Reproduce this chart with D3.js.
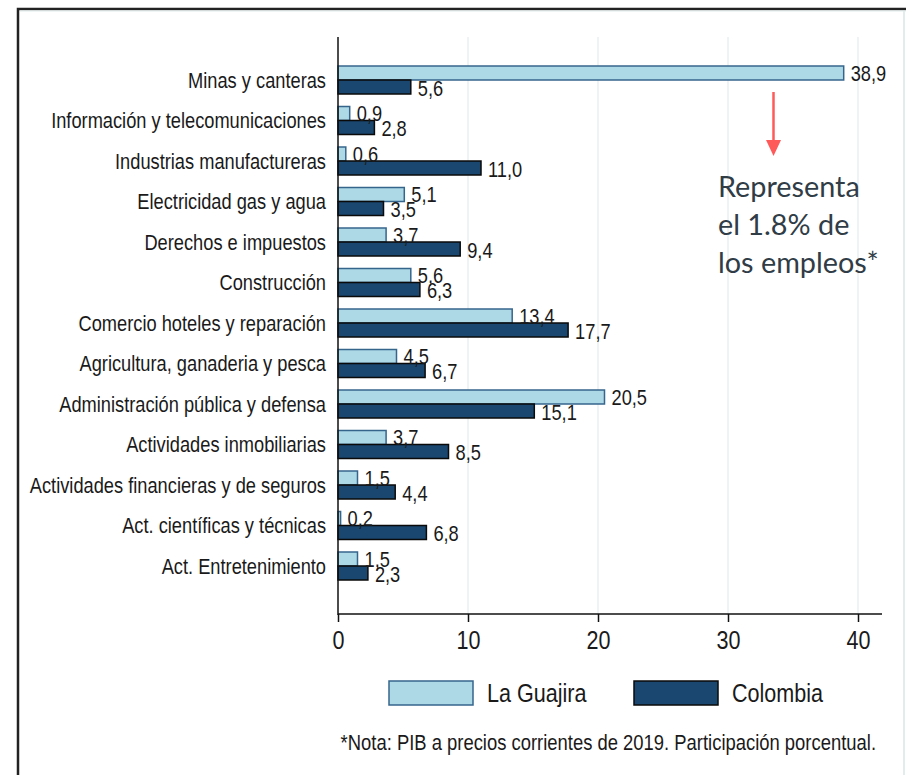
<!DOCTYPE html>
<html>
<head>
<meta charset="utf-8">
<script src="https://cdn.jsdelivr.net/npm/d3@7"></script>
<style>
  html, body { margin: 0; padding: 0; background: #fff; }
  svg { display: block; }
  .arialish { font-family: "Liberation Sans", Arial, sans-serif; }
</style>
</head>
<body>
<svg id="chart" width="906" height="775"></svg>
<script>
const categories = [
  "Minas y canteras",
  "Información y telecomunicaciones",
  "Industrias manufactureras",
  "Electricidad gas y agua",
  "Derechos e impuestos",
  "Construcción",
  "Comercio hoteles y reparación",
  "Agricultura, ganaderia y pesca",
  "Administración pública y defensa",
  "Actividades inmobiliarias",
  "Actividades financieras y de seguros",
  "Act. científicas y técnicas",
  "Act. Entretenimiento"
];
const guajira = [38.9, 0.9, 0.6, 5.1, 3.7, 5.6, 13.4, 4.5, 20.5, 3.7, 1.5, 0.2, 1.5];
const colombia = [5.6, 2.8, 11.0, 3.5, 9.4, 6.3, 17.7, 6.7, 15.1, 8.5, 4.4, 6.8, 2.3];
const xTicks = [0, 10, 20, 30, 40];
const seriesNames = ["La Guajira", "Colombia"];
const annotationLines = ["Representa", "el 1.8% de", "los empleos*"];
const note = "*Nota: PIB a precios corrientes de 2019. Participación porcentual.";

const SX = 0.83; // horizontal condensing to mimic a narrow sans
const svg = d3.select("#chart");
const colors = { light: "#add8e6", lightStroke: "#36658c", dark: "#1a476f", darkStroke: "#0a0a0a" };

// condensed text helper: positions text at (x,y) and squeezes horizontally
function narrow(sel, size) {
  sel.each(function () {
    const t = d3.select(this);
    const x = +t.attr("x") || 0, y = +t.attr("y") || 0;
    t.attr("x", 0).attr("y", 0)
      .attr("transform", `translate(${x},${y}) scale(${SX},1)`)
      .attr("class", "arialish").attr("font-size", size).attr("fill", "#1a1a1a");
  });
  return sel;
}

// frame
svg.append("rect").attr("x", 18).attr("y", 9).attr("width", 900).attr("height", 800)
  .attr("fill", "none").attr("stroke", "#222").attr("stroke-width", 2.5);
svg.append("line").attr("x1", 20).attr("x2", 906).attr("y1", 11).attr("y2", 11)
  .attr("stroke", "#dfe9ea").attr("stroke-width", 1);
svg.append("line").attr("x1", 904).attr("x2", 904).attr("y1", 11).attr("y2", 775)
  .attr("stroke", "#e3ecec").attr("stroke-width", 2);

const x = d3.scaleLinear().domain([0, 40]).range([338, 858]);
const y = d3.scaleBand().domain(categories).range([59.75, 586.25]);
const barH = 14;
const axisY = 614;
const fmt = v => d3.format(".1f")(v).replace(".", ",");

// gridlines
svg.append("g").selectAll("line").data(xTicks.filter(d => d > 0)).join("line")
  .attr("x1", d => x(d)).attr("x2", d => x(d)).attr("y1", 37).attr("y2", axisY)
  .attr("stroke", "#e3ecee").attr("stroke-width", 1.2);

// bars
const rows = categories.map((c, i) => ({ c, g: guajira[i], co: colombia[i] }));
const gRows = svg.append("g").selectAll("g").data(rows).join("g");
gRows.append("rect")
  .attr("x", x(0)).attr("y", d => y(d.c) + y.bandwidth() / 2 - barH)
  .attr("width", d => x(d.g) - x(0)).attr("height", barH)
  .attr("fill", colors.light).attr("stroke", colors.lightStroke).attr("stroke-width", 1.5);
gRows.append("rect")
  .attr("x", x(0)).attr("y", d => y(d.c) + y.bandwidth() / 2)
  .attr("width", d => x(d.co) - x(0)).attr("height", barH)
  .attr("fill", colors.dark).attr("stroke", colors.darkStroke).attr("stroke-width", 1.5);

narrow(gRows.append("text")
  .attr("x", d => x(d.g) + 7).attr("y", d => y(d.c) + y.bandwidth() / 2 - barH / 2)
  .attr("dy", "0.36em").text(d => fmt(d.g)), 22);
narrow(gRows.append("text")
  .attr("x", d => x(d.co) + 7).attr("y", d => y(d.c) + y.bandwidth() / 2 + barH / 2 + 1)
  .attr("dy", "0.36em").text(d => fmt(d.co)), 22);

// y axis (category labels)
const yAxis = svg.append("g").attr("transform", `translate(${x(0)},0)`)
  .call(d3.axisLeft(y).tickSize(0).tickPadding(12));
yAxis.select(".domain").remove();
yAxis.selectAll(".tick text").attr("dy", "0.36em");
narrow(yAxis.selectAll(".tick text"), 22);
svg.append("line").attr("x1", x(0)).attr("x2", x(0)).attr("y1", 37).attr("y2", axisY + 1)
  .attr("stroke", "#111").attr("stroke-width", 1.5);

// x axis
const xAxis = svg.append("g").attr("transform", `translate(0,${axisY})`)
  .call(d3.axisBottom(x).tickValues(xTicks).tickSize(8).tickPadding(0).tickSizeOuter(0));
xAxis.select(".domain").attr("d", `M${x(0)},0H882`).attr("stroke", "#111").attr("stroke-width", 1.5);
xAxis.selectAll(".tick line").attr("stroke", "#111").attr("stroke-width", 1.5);
xAxis.selectAll(".tick text").attr("y", 26).attr("dy", "0.36em");
narrow(xAxis.selectAll(".tick text"), 26);

// annotation arrow
svg.append("line").attr("x1", x(33.5)).attr("x2", x(33.5)).attr("y1", 92).attr("y2", 142)
  .attr("stroke", "#ff5a5a").attr("stroke-width", 2.5);
svg.append("path")
  .attr("d", `M${x(33.5) - 7.5},140L${x(33.5) + 7.5},140L${x(33.5)},156Z`)
  .attr("fill", "#ff5a5a");
svg.append("g").selectAll("text").data(annotationLines).join("text")
  .attr("x", 718).attr("y", (d, i) => 197 + i * 38)
  .attr("font-family", "Lato, 'Open Sans', sans-serif").attr("font-size", 28.8).attr("fill", "#303c46")
  .text(d => d);

// legend
const legend = svg.append("g");
const legendItems = [
  { name: seriesNames[0], fill: colors.light, stroke: colors.lightStroke, x: 389 },
  { name: seriesNames[1], fill: colors.dark, stroke: colors.darkStroke, x: 634 }
];
const li = legend.selectAll("g").data(legendItems).join("g");
li.append("rect").attr("x", d => d.x).attr("y", 681).attr("width", 84).attr("height", 24)
  .attr("fill", d => d.fill).attr("stroke", d => d.stroke).attr("stroke-width", 1.5);
narrow(li.append("text").attr("x", d => d.x + 98).attr("y", 693)
  .attr("dy", "0.36em").text(d => d.name), 26);

narrow(svg.append("text").attr("x", 876).attr("y", 742)
  .attr("dy", "0.36em").attr("text-anchor", "end").text(note), 22.2);
</script>
</body>
</html>
